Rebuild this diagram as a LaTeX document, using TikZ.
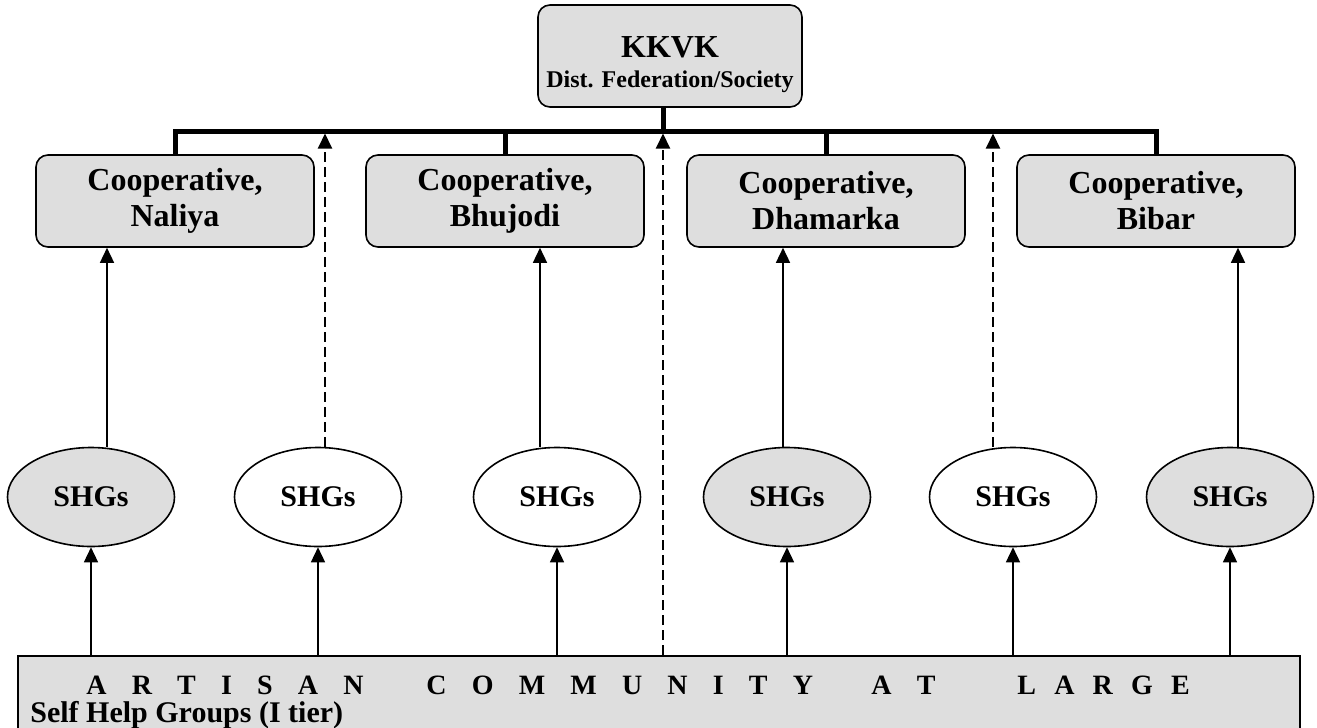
\documentclass[tikz,border=0pt]{standalone}
\usepackage{fontspec}
\setmainfont{Liberation Serif}
\usepackage{xcolor}
\usetikzlibrary{arrows.meta}
\usetikzlibrary{shapes.geometric}
\definecolor{shadegray}{RGB}{222,222,222}
\newcommand{\ls}[1][0.9em]{\hspace{#1}}

\begin{document}
\begin{tikzpicture}[x=0.5pt,y=-0.5pt,
  coop/.style={draw, line width=0.8pt, rounded corners=6pt, fill=shadegray,
    minimum width=139pt, minimum height=46pt, inner sep=0pt, align=center,
    font=\fontsize{16}{18}\selectfont\bfseries},
  shg/.style={draw, ellipse, line width=0.8pt, minimum width=83.5pt,
    minimum height=49.5pt, inner sep=0pt, font=\fontsize{15}{17}\selectfont\bfseries},
  up/.style={-{Triangle[width=7pt,length=7.5pt]}, line width=0.75pt},
  link/.style={up, line width=1pt, dash pattern=on 5pt off 2.5pt},
  bus/.style={line width=2.5pt},
  spaced/.style={anchor=base west, inner sep=0pt, font=\fontsize{14}{16}\selectfont\bfseries}
]
\path[use as bounding box, clip] (0,0) rectangle (1317,728);

% top
\node[coop, minimum width=132pt, minimum height=51pt] (kkvk) at (670,56)
  {{\fontsize{16}{17}\selectfont\rule{0pt}{19pt}KKVK}\\[-3pt]{\fontsize{12}{14}\selectfont Dist. Federation/Society}};
\coordinate (hub) at (663,131);

% cooperatives
\node[coop] (naliya) at (175,201) {Cooperative,\\Naliya};
\node[coop] (bhujodi) at (505,201) {Cooperative,\\Bhujodi};
\node[coop] (dhamarka) at (826,201) {Cooperative,\\Dhamarka};
\node[coop] (bibar) at (1156,201) {Cooperative,\\Bibar};

% self help groups
\node[shg, fill=shadegray] (s1) at (91,497) {SHGs};
\node[shg] (s2) at (318,497) {SHGs};
\node[shg] (s3) at (557,497) {SHGs};
\node[shg, fill=shadegray] (s4) at (787,497) {SHGs};
\node[shg] (s5) at (1013,497) {SHGs};
\node[shg, fill=shadegray] (s6) at (1230,497) {SHGs};

% community bar
\node[draw, line width=0.8pt, fill=shadegray, minimum width=641pt, minimum height=50pt,
  inner sep=0pt] (community) at (659,706) {};
\node[spaced] (w1) at (86,694) {A\ls R\ls T\ls I\ls S\ls A\ls N};
\node[spaced] (w2) at (426,694) {C\ls O\ls M\ls M\ls U\ls N\ls I\ls T\ls Y};
\node[spaced] (w3) at (871,694) {A\ls T};
\node[spaced] (w4) at (1017,694) {L\ls[.65em]A\ls[.65em]R\ls[.65em]G\ls[.65em]E};
\node[spaced, font=\fontsize{15}{17}\selectfont\bfseries] (tier) at (30,722) {Self Help Groups (I tier)};

% federation bus
\draw[bus] (naliya.north) |- (hub) -| (bibar.north);
\draw[bus] (bhujodi.north) -- (bhujodi.north |- hub);
\draw[bus] (dhamarka.north) -- (dhamarka.north |- hub);
\draw[bus] (kkvk.south -| hub) -- (hub);

% shg to cooperative
\draw[up] ([xshift=8pt]s1.north) -- ([xshift=8pt]s1.north |- naliya.south);
\draw[up] ([xshift=-8.5pt]s3.north) -- ([xshift=-8.5pt]s3.north |- bhujodi.south);
\draw[up] ([xshift=-2pt]s4.north) -- ([xshift=-2pt]s4.north |- dhamarka.south);
\draw[up] ([xshift=4pt]s6.north) -- ([xshift=4pt]s6.north |- bibar.south);

% direct links to federation
\draw[link] ([xshift=3.5pt]s2.north) -- ([xshift=3.5pt,yshift=-1.25pt]s2.north |- hub);
\draw[link] ([xshift=-10pt]s5.north) -- ([xshift=-10pt,yshift=-1.25pt]s5.north |- hub);
\draw[link] (community.north -| hub) -- ([yshift=-1.25pt]hub);

% community to shg
\foreach \s in {s1,s2,s3,s4,s5,s6}
  \draw[up] (\s.south |- community.north) -- (\s.south);
\end{tikzpicture}
\end{document}
